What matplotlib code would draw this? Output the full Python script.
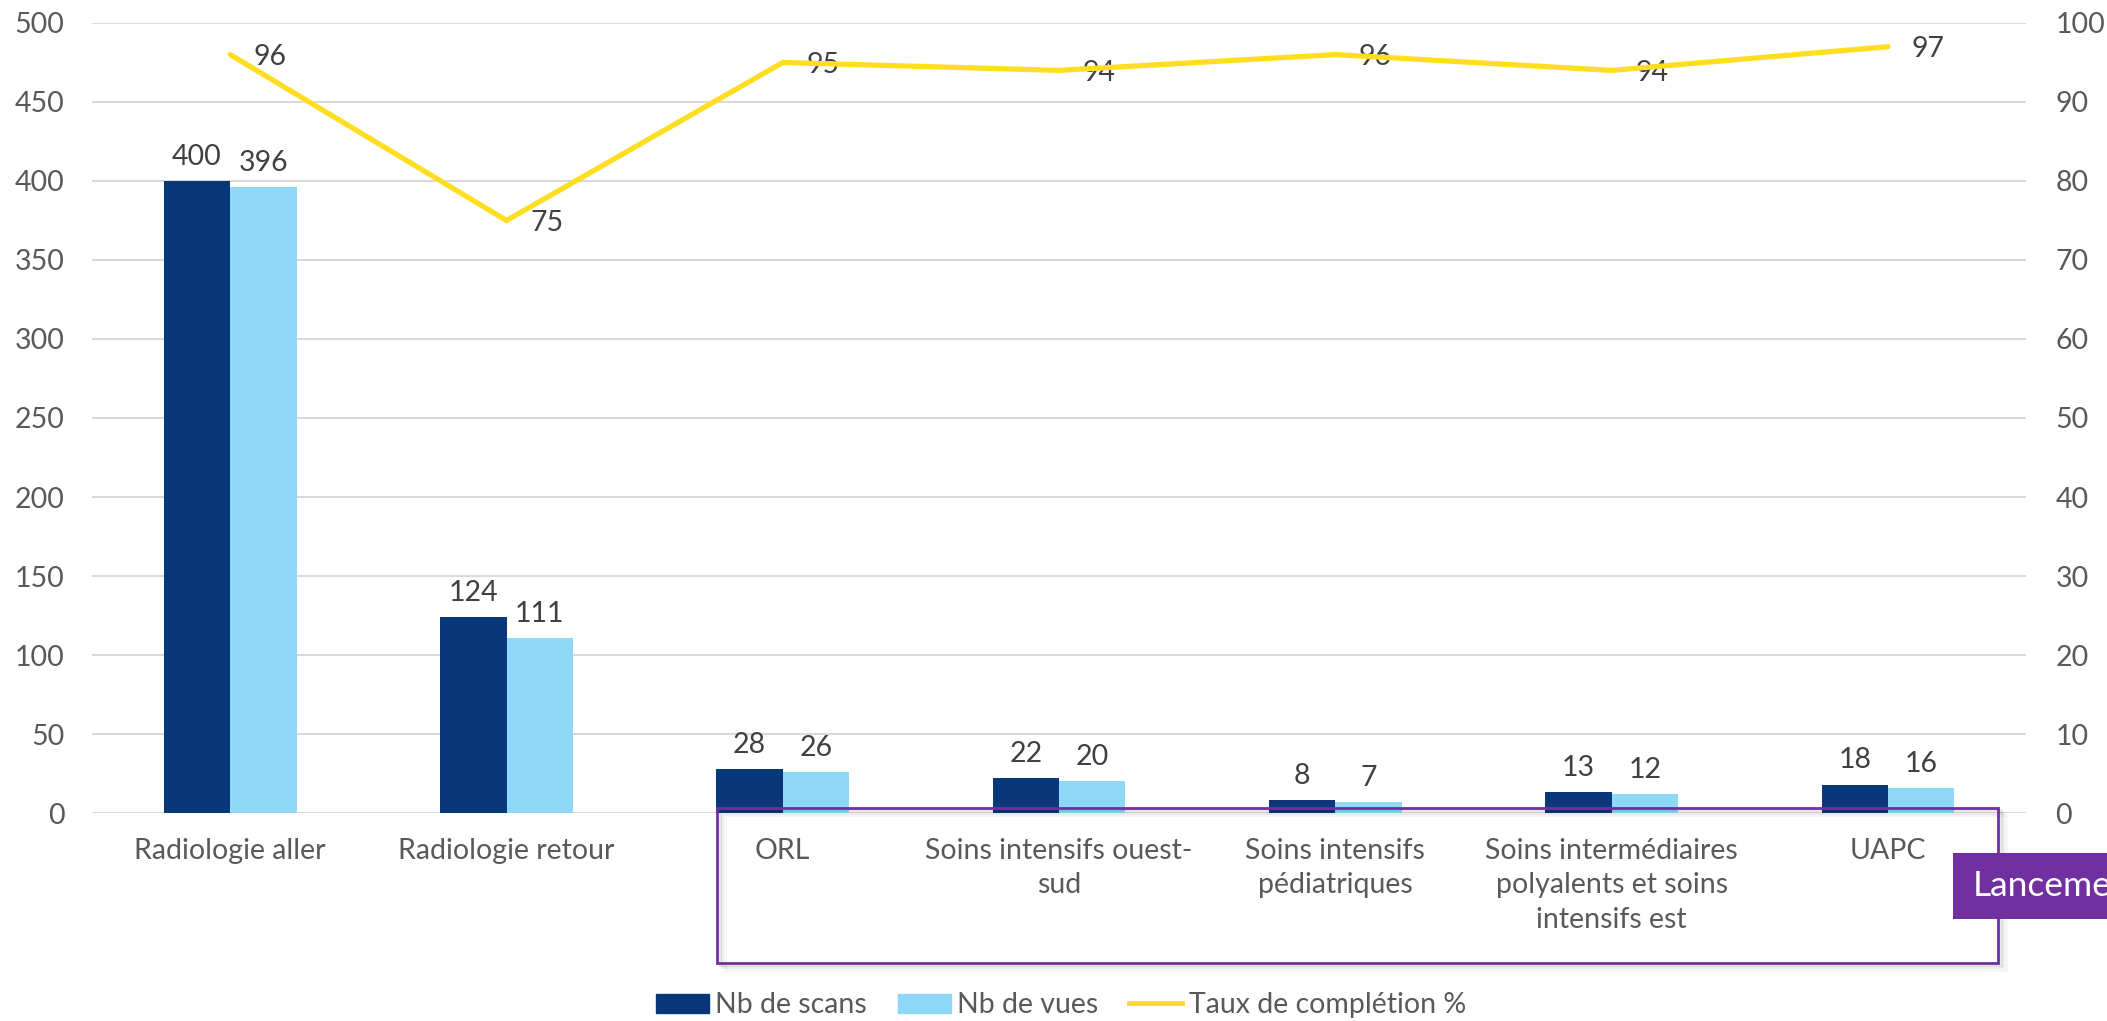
import matplotlib.pyplot as plt
from matplotlib.patches import Rectangle
from matplotlib.lines import Line2D
import numpy as np

plt.rcParams['font.family'] = ['Lato', 'DejaVu Sans']

services = ["Radiologie aller", "Radiologie retour", "ORL",
            "Soins intensifs ouest-\nsud", "Soins intensifs\npédiatriques",
            "Soins intermédiaires\npolyalents et soins\nintensifs est", "UAPC"]
nb_scans = [400, 124, 28, 22, 8, 13, 18]
nb_vues = [396, 111, 26, 20, 7, 12, 16]
taux_completion = [96, 75, 95, 94, 96, 94, 97]

dark_blue = '#08377A'
light_blue = '#8FD9F8'
yellow = '#FFDE21'
purple = '#7030A0'
label_col = '#404040'
tick_col = '#595959'
fs = 20.5

fig = plt.figure(figsize=(21.07, 10.21), dpi=100)
ax = fig.add_axes([0.0437, 0.2037, 0.9179, 0.7738])
ax2 = ax.twinx()

x = np.arange(len(services))
w = 0.24
b1 = ax.bar(x - w / 2, nb_scans, w, color=dark_blue, zorder=3)
b2 = ax.bar(x + w / 2, nb_vues, w, color=light_blue, zorder=3)

for bars, vals in ((b1, nb_scans), (b2, nb_vues)):
    for rect, v in zip(bars, vals):
        ax.annotate(str(v), (rect.get_x() + rect.get_width() / 2, v),
                    xytext=(0, 8), textcoords='offset points',
                    ha='center', va='bottom', fontsize=fs, color=label_col)

ax.set_ylim(0, 500)
ax.set_yticks(range(0, 501, 50))
ax.set_xlim(-0.5, len(services) - 0.5)
ax.set_xticks(x)
ax.set_xticklabels(services, linespacing=1.4)
ax.yaxis.grid(True, color='#D9D9D9', linewidth=1.5, zorder=0)
ax.set_axisbelow(True)

ax2.plot(x, taux_completion, color=yellow, linewidth=3.8,
         solid_capstyle='round', solid_joinstyle='miter', zorder=4)
for xi, v in zip(x, taux_completion):
    ax2.annotate(str(v), (xi, v), xytext=(17, -2), textcoords='offset points',
                 ha='left', va='center', fontsize=fs, color=label_col)
ax2.set_ylim(0, 100)
ax2.set_yticks(range(0, 101, 10))

for a in (ax, ax2):
    for s in a.spines.values():
        s.set_visible(False)
    a.tick_params(length=0, labelsize=fs, labelcolor=tick_col)
ax.tick_params(axis='y', pad=20)
ax.tick_params(axis='x', pad=18)
ax2.tick_params(axis='y', pad=21)

# framed group of services with a soft shadow
for i, al in enumerate([0.10, 0.07, 0.04]):
    fig.patches.append(Rectangle((0.3403 + 0.0012 * (i + 1), 0.0568 - 0.0022 * (i + 1)),
                                 0.608, 0.1518, transform=fig.transFigure,
                                 facecolor='none', edgecolor='black', alpha=al,
                                 linewidth=2, zorder=1))
fig.patches.append(Rectangle((0.3403, 0.0568), 0.608, 0.1518, transform=fig.transFigure,
                             facecolor='none', edgecolor=purple, linewidth=2, zorder=2))

fig.patches.append(Rectangle((0.927, 0.0999), 0.08, 0.0646, transform=fig.transFigure,
                             facecolor=purple, edgecolor='none', zorder=5))
fig.text(0.9364, 0.1322, "Lancement", color='white', fontsize=25.5,
         va='center', ha='left', zorder=6)

handles = [Rectangle((0, 0), 1, 1, color=dark_blue),
           Rectangle((0, 0), 1, 1, color=light_blue),
           Line2D([0], [0], color=yellow, linewidth=3.5)]
fig.legend(handles, ["Nb de scans", "Nb de vues", "Taux de complétion %"],
           loc='center', bbox_to_anchor=(0.5035, 0.0155), ncol=3, frameon=False,
           fontsize=fs, labelcolor=tick_col, handlelength=1.87, handleheight=0.65,
           handletextpad=0.22, columnspacing=1.08, borderaxespad=0, borderpad=0)

fig.savefig('out.png', dpi=100)
